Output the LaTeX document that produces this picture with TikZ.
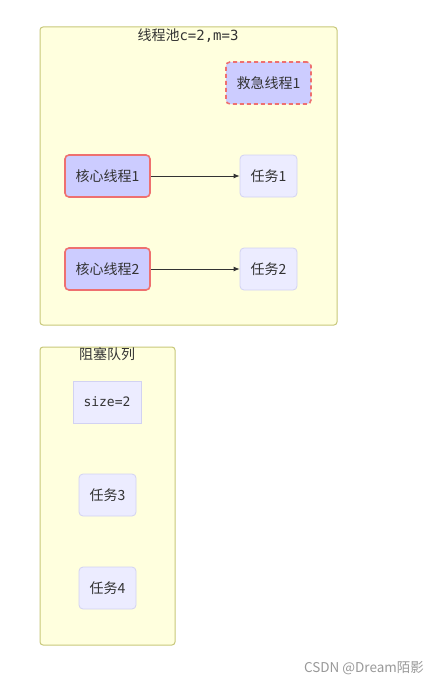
\documentclass[tikz,border=0pt]{standalone}
\usepackage{fontspec}
\setmainfont{Noto Sans CJK SC}
\newfontfamily\monof{DejaVu Sans Mono}
\usetikzlibrary{arrows.meta}
\definecolor{clfill}{HTML}{FFFFDE}
\definecolor{clline}{HTML}{C8C87A}
\definecolor{thfill}{HTML}{CCCCFF}
\definecolor{thline}{HTML}{EE7070}
\definecolor{tkfill}{HTML}{ECECFF}
\definecolor{tkline}{HTML}{D2D2F2}
\definecolor{txt}{HTML}{333333}
\begin{document}
\begin{tikzpicture}[x=1pt,y=-1pt,
  cluster/.style={draw=clline,fill=clfill,line width=1pt,rounded corners=3pt},
  thread/.style={draw=thline,fill=thfill,line width=1.6pt,rounded corners=4pt,minimum width=85pt,minimum height=42pt,inner sep=0pt,text=txt,font=\fontsize{14}{16}\selectfont},
  task/.style={draw=tkline,fill=tkfill,line width=0.8pt,rounded corners=4pt,minimum width=57pt,minimum height=42pt,inner sep=0pt,text=txt,font=\fontsize{14}{16}\selectfont},
  conn/.style={draw=txt,line width=0.8pt,-{Latex[length=6pt,width=5pt]}},
  title/.style={text=txt,font=\fontsize{14}{16}\selectfont,inner sep=0pt}]
\useasboundingbox[fill=white] (0,0) rectangle (440,685);
% clusters
\draw[cluster] (40,27) rectangle (337,325);
\node[title] (pooltitle) at (188,36) {线程池{\monof c=2,m=3}};
\draw[cluster] (40,347) rectangle (175,645);
\node[title] (qtitle) at (107,354) {阻塞队列};
% nodes
\node[thread,dashed,dash pattern=on 4pt off 3pt] (e1) at (268.5,83) {救急线程1};
\node[thread] (c1) at (107.5,176) {核心线程1};
\node[thread] (c2) at (107.5,269) {核心线程2};
\node[task] (t1) at (268.5,176) {任务1};
\node[task] (t2) at (268.5,269) {任务2};
\node[task,rounded corners=0pt,minimum width=68pt] (sz) at (107,402) {\monof\fontsize{13}{15}\selectfont size=2};
\node[task] (t3) at (107.5,495) {任务3};
\node[task] (t4) at (107.5,588) {任务4};
% connectors
\draw[conn] (c1) -- (t1);
\draw[conn] (c2) -- (t2);
% watermark
\node[text=black!40,font=\fontsize{13.5}{15}\selectfont,inner sep=0pt] (wm) at (364,668) {CSDN @Dream陌影};
\end{tikzpicture}
\end{document}
